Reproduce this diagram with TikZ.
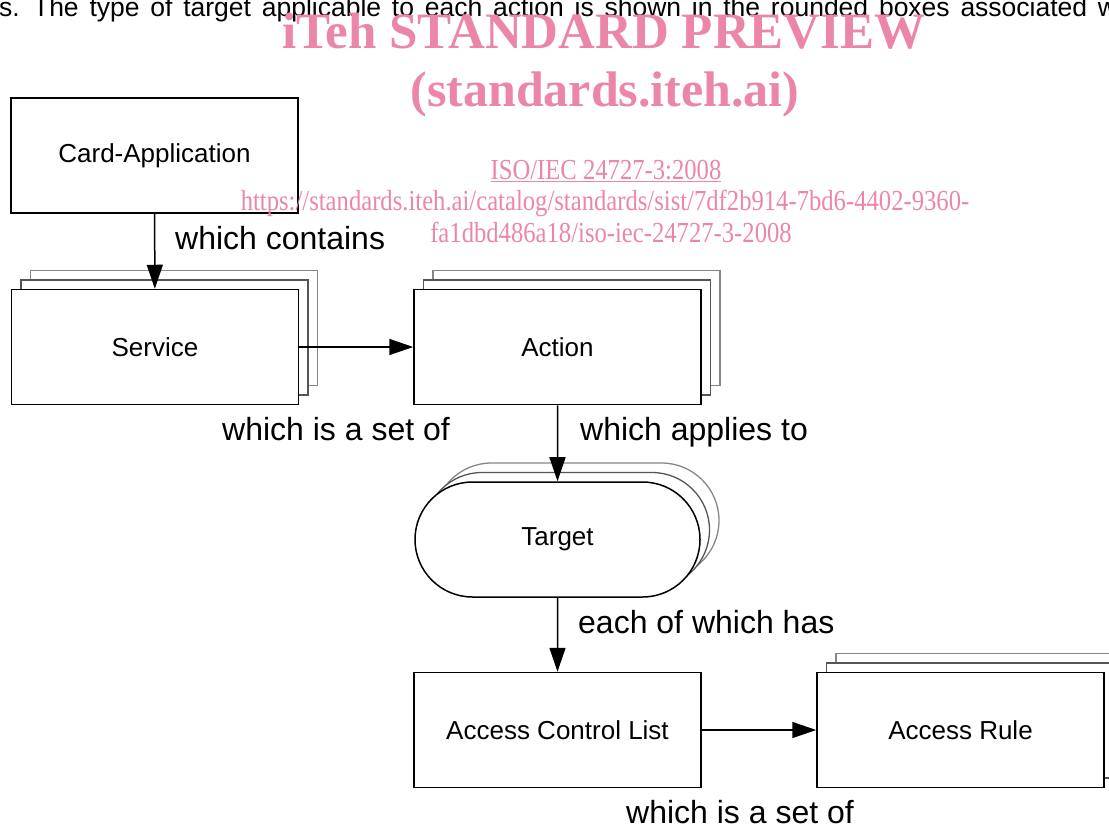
\documentclass[tikz,border=0pt]{standalone}
\usepackage{fontspec}
\setmainfont{Liberation Sans}
\newfontfamily\wmserif{Liberation Serif}
\usetikzlibrary{arrows.meta,shapes.misc,shadows}
\definecolor{wmpink}{RGB}{236,134,166}
\definecolor{shadenear}{RGB}{85,85,85}
\definecolor{shadefar}{RGB}{135,135,135}
\newcommand{\mbx}{\fontsize{26}{30}\selectfont}
\newcommand{\mlbl}{\fontsize{32}{36}\selectfont}
\newcommand{\mintro}{\fontsize{26.5}{30}\selectfont\spaceskip=10.8pt\relax}

\begin{document}
\begin{tikzpicture}[x=1pt,y=-1pt]
                        \tikzstyle{box}=[draw,line width=1.5pt,fill=white,minimum width=287pt,minimum height=115pt,inner sep=0pt,font=\mbx]
                        \tikzstyle{stack}=[copy shadow={shadow xshift=19pt,shadow yshift=19pt,draw=shadefar,fill=white,line width=1.3pt},
                                           copy shadow={shadow xshift=9.5pt,shadow yshift=9.5pt,draw=shadenear,fill=white,line width=1.3pt}]
                        \tikzstyle{lbl}=[anchor=base west,inner sep=0pt,font=\mlbl]
                        \tikzstyle{wm}=[anchor=base,inner sep=0pt,text=wmpink]
                        \tikzstyle{link}=[line width=1.5pt,-{Triangle[length=24pt,width=16pt]}]
                        \useasboundingbox (0,0) rectangle (1109,825);
                        \node[anchor=base west,inner sep=0pt,font=\mintro] (intro) at (-1,16)
                            {s. The type of target applicable to each action is shown in the rounded boxes associated with};
                        \node[box] (cardapp) at (154.5,155.5) {Card-Application};
                        \node[box,stack] (service) at (155,347) {Service};
                        \node[box,stack] (action) at (557.5,347) {Action};
                        \node[draw,line width=1.5pt,fill=white,rounded rectangle,minimum width=285pt,minimum height=115pt,inner sep=0pt,font=\mbx,stack] (target) at (557.5,539.5) {Target};
                        \node[box] (acl) at (557.5,730) {Access Control List};
                        \node[box,stack] (rule) at (960.5,730) {Access Rule};
                        \draw[link] (cardapp) -- (service);
                        \draw[link] (service) -- (action);
                        \draw[link] (action) -- (target);
                        \draw[link] (target) -- (acl);
                        \draw[link] (acl) -- (rule);
                        \node[lbl] (contains) at (175,249) {which contains};
                        \node[lbl] (setofa) at (222,440) {which is a set of};
                        \node[lbl] (applies) at (580,440) {which applies to};
                        \node[lbl] (hasone) at (578,633) {each of which has};
                        \node[lbl] (setofb) at (626,823) {which is a set of};
                        \node[wm,font=\wmserif\bfseries\fontsize{51}{54}\selectfont] (wmtitle) at (604,48) {iTeh STANDARD PREVIEW};
                        \node[wm,font=\wmserif\bfseries\fontsize{50}{54}\selectfont] (wmsite) at (605,106) {(standards.iteh.ai)};
                        \node[wm,font=\wmserif\fontsize{29}{32}\selectfont,xscale=0.85] (wmiso) at (606,179) {\underline{ISO/IEC 24727-3:2008}};
                        \node[wm,font=\wmserif\fontsize{29}{32}\selectfont,xscale=0.85] (wmurla) at (605,210)
                            {https://standards.iteh.ai/catalog/standards/sist/7df2b914-7bd6-4402-9360-};
                        \node[wm,font=\wmserif\fontsize{29}{32}\selectfont,xscale=0.85] (wmurlb) at (611,242)
                            {fa1dbd486a18/iso-iec-24727-3-2008};
\end{tikzpicture}
\end{document}
